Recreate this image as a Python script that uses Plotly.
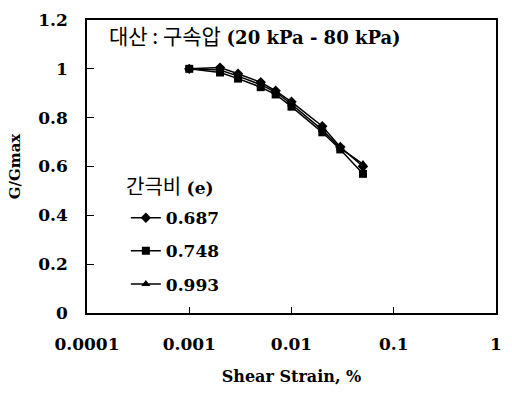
import plotly.graph_objects as go

strain = [0.001, 0.002, 0.003, 0.005, 0.007, 0.01, 0.02, 0.03, 0.05]
g_0687 = [1.0, 1.005, 0.98, 0.945, 0.91, 0.865, 0.765, 0.68, 0.60]
g_0748 = [1.0, 0.985, 0.96, 0.925, 0.895, 0.845, 0.74, 0.67, 0.57]
g_0993 = [1.0, 0.995, 0.97, 0.935, 0.905, 0.855, 0.75, 0.675, 0.61]
series_names = ["0.687", "0.748", "0.993"]
symbols = ["diamond", "square", "triangle-up"]
x_tickvals = [0.0001, 0.001, 0.01, 0.1, 1]
x_ticktext = ["0.0001", "0.001", "0.01", "0.1", "1"]
y_tickvals = [0, 0.2, 0.4, 0.6, 0.8, 1.0, 1.2]

SERIF = "'DejaVu Serif', serif"
KR = "'Noto Sans CJK KR'"

fig = go.Figure()
for name, ys, sym in zip(series_names, [g_0687, g_0748, g_0993], symbols):
    fig.add_trace(go.Scatter(
        x=strain, y=ys, mode="lines+markers", name=name, legendgroup=name,
        line=dict(color="black", width=1.5),
        marker=dict(symbol=sym, size=8, color="black"),
    ))

fig.update_layout(
    width=512, height=397,
    margin=dict(l=87, r=10, t=15, b=84),
    paper_bgcolor="white", plot_bgcolor="white",
    showlegend=True,
    legend=dict(
        x=0.095, y=0.385, xanchor="left", yanchor="top",
        bgcolor="rgba(0,0,0,0)",
        font=dict(family=SERIF, size=17, color="black", weight="bold"),
        tracegroupgap=8, itemwidth=30,
    ),
    xaxis=dict(
        type="log", range=[-4, 0], tickvals=x_tickvals, ticktext=x_ticktext,
        ticks="inside", ticklen=6, tickcolor="black",
        showline=True, linecolor="black", linewidth=1.5, mirror=True,
        showgrid=False, zeroline=False,
        tickfont=dict(family=SERIF, size=17, color="black", weight="bold"),
        ticklabelstandoff=15,
        title=dict(text="Shear Strain, %", standoff=18,
                   font=dict(family=SERIF, size=16, color="black", weight="bold")),
    ),
    yaxis=dict(
        range=[0, 1.2], tickvals=y_tickvals,
        ticks="inside", ticklen=7, tickcolor="black",
        showline=True, linecolor="black", linewidth=1.5, mirror=True,
        showgrid=False, zeroline=False,
        tickfont=dict(family=SERIF, size=17, color="black", weight="bold"),
        ticklabelstandoff=14,
        title=dict(text="G/Gmax", standoff=14,
                   font=dict(family=SERIF, size=15, color="black", weight="bold")),
    ),
    annotations=[
        dict(
            text=f"<span style=\"font-family:{KR};font-size:21px\">대산 : 구속압</span> <b>(20 kPa - 80 kPa)</b>",
            xref="paper", yref="paper", x=0.05, y=0.95, xanchor="left", yanchor="middle",
            showarrow=False, font=dict(family=SERIF, size=18, color="black"),
        ),
        dict(
            text=f"<span style=\"font-family:{KR};font-size:20px\">간극비</span> <b>(e)</b>",
            xref="paper", yref="paper", x=0.09, y=(313 - 183) / 298, xanchor="left", yanchor="middle",
            showarrow=False, font=dict(family=SERIF, size=17, color="black"),
        ),
    ],
)

fig.write_html("out.html")
